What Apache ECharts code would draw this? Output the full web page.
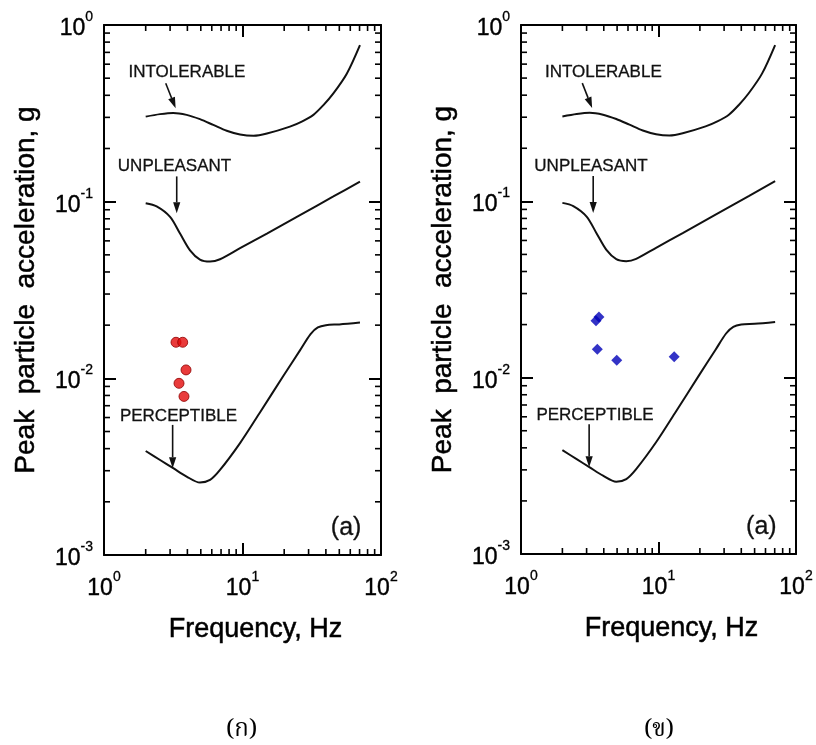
<!DOCTYPE html>
<html>
<head>
<meta charset="utf-8">
<script src="https://cdn.jsdelivr.net/npm/echarts@6/dist/echarts.min.js"></script>
<style>html,body{margin:0;padding:0;background:#fff}#c{width:816px;height:745px}</style>
</head>
<body>
<div id="c"></div>
<script>
// ---- data ----
const intolerableFreq = [2, 2.54, 3.16, 3.95, 4.93, 6.15, 7.69, 9.6, 12, 15, 22, 26.8, 32.5, 38.4, 45.3, 56.6, 70.5];
const intolerableAcc  = [0.303, 0.313, 0.318, 0.31, 0.293, 0.272, 0.252, 0.24, 0.236, 0.243, 0.266, 0.284, 0.31, 0.352, 0.41, 0.53, 0.77];

const unpleasantFreq = [2, 2.4, 3.0, 3.54, 4.18, 4.93, 5.83, 6.88, 9.6, 15, 26, 45.3, 70.5];
const unpleasantAcc  = [0.098, 0.094, 0.082, 0.066, 0.053, 0.047, 0.0458, 0.0472, 0.0545, 0.066, 0.084, 0.107, 0.13];

const perceptibleFreq = [2, 2.54, 3.16, 3.95, 4.93, 5.83, 6.88, 9.6, 13.4, 19.7, 26, 31, 35, 40, 50, 70.5];
const perceptibleAcc  = [0.00388, 0.00345, 0.0031, 0.00278, 0.00257, 0.00266, 0.00303, 0.0043, 0.00643, 0.0103, 0.0144, 0.0178, 0.0194, 0.02, 0.0202, 0.0207];

const redFreq = [3.31, 3.70, 3.91, 3.48, 3.78];
const redAcc  = [0.016, 0.016, 0.01116, 0.00937, 0.0079];

const blueFreq = [3.51, 3.69, 3.59, 4.97, 13.0];
const blueAcc  = [0.021, 0.0221, 0.0145, 0.01254, 0.01315];

const minorTicksX = [2, 3, 4, 5, 6, 7, 8, 9, 20, 30, 40, 50, 60, 70, 80, 90];
const minorTicksY = [0.002, 0.003, 0.004, 0.005, 0.006, 0.007, 0.008, 0.009,
                     0.02, 0.03, 0.04, 0.05, 0.06, 0.07, 0.08, 0.09,
                     0.2, 0.3, 0.4, 0.5, 0.6, 0.7, 0.8, 0.9];

const labelTexts = ['INTOLERABLE', 'UNPLEASANT', 'PERCEPTIBLE', '(a)'];
const captions = ['(ก)', '(ข)'];
const xTitle = 'Frequency, Hz';
const yTitle = 'Peak  particle  acceleration, g';

// ---- annotation placement (data coordinates) ----
const labelCoords = [[3.97, 0.542], [3.23, 0.158], [3.45, 0.00608], [56, 0.00142]];
// arrow: [fromFreq, fromAcc, tipFreq, tipAcc]
const arrowCoords = [
  [2.79, 0.468, 3.29, 0.338],
  [3.35, 0.139, 3.35, 0.086],
  [3.13, 0.00545, 3.13, 0.0031]
];

const FONT = '"Liberation Sans", Arial, Helvetica, sans-serif';
const pairs = (a, b) => a.map((v, i) => [v, b[i]]);

const richLabel = {
  b: {fontSize: 23, lineHeight: 30, verticalAlign: 'bottom', fontFamily: FONT, color: '#000',
      textBorderColor: '#000', textBorderWidth: 0.4},
  s: {fontSize: 14, lineHeight: 14, verticalAlign: 'top', fontFamily: FONT, color: '#000',
      textBorderColor: '#000', textBorderWidth: 0.3}
};
const powFmt = v => '{b|10}{s|' + Math.round(Math.log10(v)) + '}';

function xAxis(gridIndex, position, labels) {
  return {
    type: 'log', logBase: 10, gridIndex, position, min: 1, max: 100,
    name: labels ? xTitle : '', nameLocation: 'middle', nameGap: 61,
    nameTextStyle: {fontSize: 27, color: '#000', fontFamily: FONT, padding: [0, 0, 0, 26],
                    textBorderColor: '#000', textBorderWidth: 0.5},
    axisLine: {show: true, lineStyle: {color: '#000', width: 2}},
    axisTick: {show: true, inside: true, length: 12, lineStyle: {color: '#000', width: 2}},
    axisLabel: {show: labels, margin: 15, formatter: powFmt, rich: richLabel},
    splitLine: {show: false}, minorTick: {show: false}
  };
}
function yAxis(gridIndex, position, labels) {
  return {
    type: 'log', logBase: 10, gridIndex, position, min: 0.001, max: 1,
    name: labels ? yTitle : '', nameLocation: 'middle', nameGap: 64,
    nameTextStyle: {fontSize: 28, color: '#000', fontFamily: FONT,
                    textBorderColor: '#000', textBorderWidth: 0.5},
    axisLine: {show: true, lineStyle: {color: '#000', width: 2}},
    axisTick: {show: true, inside: true, length: 12, lineStyle: {color: '#000', width: 2}},
    axisLabel: {show: labels, margin: 11, formatter: powFmt, rich: richLabel},
    splitLine: {show: false}, minorTick: {show: false}
  };
}

function minorTickRender(params, api) {
  const cs = params.coordSys;
  const kind = api.value(2);
  const len = 6;
  const style = {stroke: '#000', lineWidth: 1.6};
  const p = api.coord([api.value(0), api.value(1)]);
  if (kind === 0) {
    const x = p[0];
    return {type: 'group', children: [
      {type: 'line', shape: {x1: x, y1: cs.y + cs.height, x2: x, y2: cs.y + cs.height - len}, style},
      {type: 'line', shape: {x1: x, y1: cs.y, x2: x, y2: cs.y + len}, style}
    ]};
  }
  const y = p[1];
  return {type: 'group', children: [
    {type: 'line', shape: {x1: cs.x, y1: y, x2: cs.x + len, y2: y}, style},
    {type: 'line', shape: {x1: cs.x + cs.width, y1: y, x2: cs.x + cs.width - len, y2: y}, style}
  ]};
}

function arrowRender(params, api) {
  const a = api.coord([api.value(0), api.value(1)]);
  const b = api.coord([api.value(2), api.value(3)]);
  const dx = b[0] - a[0], dy = b[1] - a[1];
  const L = Math.sqrt(dx * dx + dy * dy);
  const ux = dx / L, uy = dy / L;
  const head = 11, hw = 3.6;
  const bx = b[0] - ux * head, by = b[1] - uy * head;
  return {type: 'group', children: [
    {type: 'line', shape: {x1: a[0], y1: a[1], x2: bx, y2: by}, style: {stroke: '#111', lineWidth: 1.6}},
    {type: 'polygon', shape: {points: [[b[0], b[1]], [bx - uy * hw, by + ux * hw], [bx + uy * hw, by - ux * hw]]},
     style: {fill: '#111'}}
  ]};
}

function panelSeries(xi, yi, pointsSeries) {
  const curveStyle = {color: '#111', width: 2};
  const base = {type: 'line', xAxisIndex: xi, yAxisIndex: yi, showSymbol: false, smooth: 0.3,
                lineStyle: curveStyle, itemStyle: {color: '#111'}, silent: true, animation: false, z: 3};
  return [
    Object.assign({}, base, {
      name: 'intolerable', data: pairs(intolerableFreq, intolerableAcc),
      markPoint: {
        symbol: 'circle', symbolSize: 0, silent: true, animation: false,
        label: {show: true, position: 'inside', formatter: '{b}', color: '#111', fontFamily: FONT, fontSize: 17,
                textBorderColor: '#111', textBorderWidth: 0.3},
        data: labelTexts.map((t, i) => ({name: t, coord: labelCoords[i],
          label: i === 3 ? {fontSize: 25} : {}}))
      }
    }),
    Object.assign({}, base, {name: 'unpleasant', data: pairs(unpleasantFreq, unpleasantAcc)}),
    Object.assign({}, base, {name: 'perceptible', data: pairs(perceptibleFreq, perceptibleAcc)}),
    pointsSeries,
    {
      type: 'custom', xAxisIndex: xi, yAxisIndex: yi, silent: true, animation: false, clip: false,
      renderItem: arrowRender, encode: {x: [0, 2], y: [1, 3]},
      data: arrowCoords, z: 4
    },
    {
      type: 'custom', xAxisIndex: xi, yAxisIndex: yi, silent: true, animation: false, clip: false,
      renderItem: minorTickRender,
      data: minorTicksX.map(v => [v, 0.01, 0]).concat(minorTicksY.map(v => [10, v, 1])),
      z: 5
    }
  ];
}

const CAPFONT = '"Noto Serif Thai", "Noto Sans Thai", "Liberation Serif", "Times New Roman", serif';
const chart = echarts.init(document.getElementById('c'), null, {renderer: 'canvas'});
chart.setOption({
  backgroundColor: '#fff',
  animation: false,
  grid: [
    {left: 104, top: 25, width: 277, height: 530, outerBoundsMode: 'none'},
    {left: 521, top: 25, width: 275, height: 529, outerBoundsMode: 'none'}
  ],
  xAxis: [xAxis(0, 'bottom', true), xAxis(0, 'top', false), xAxis(1, 'bottom', true), xAxis(1, 'top', false)],
  yAxis: [yAxis(0, 'left', true), yAxis(0, 'right', false), yAxis(1, 'left', true), yAxis(1, 'right', false)],
  series: [].concat(
    panelSeries(0, 0, {
      type: 'scatter', xAxisIndex: 0, yAxisIndex: 0, name: 'red', symbol: 'circle', symbolSize: 10,
      itemStyle: {color: '#e40a0a', borderColor: '#8e0000', borderWidth: 1}, z: 4,
      data: pairs(redFreq, redAcc)
    }),
    panelSeries(2, 2, {
      type: 'scatter', xAxisIndex: 2, yAxisIndex: 2, name: 'blue', symbol: 'diamond', symbolSize: 11,
      itemStyle: {color: '#0000b8'}, z: 4,
      data: pairs(blueFreq, blueAcc)
    })
  ),
  graphic: [
    {type: 'text', left: 226, top: 720, style: {text: captions[0], fontSize: 24, fill: '#000', fontFamily: CAPFONT}},
    {type: 'text', left: 644, top: 720, style: {text: captions[1], fontSize: 24, fill: '#000', fontFamily: CAPFONT}}
  ]
});
</script>
</body>
</html>
